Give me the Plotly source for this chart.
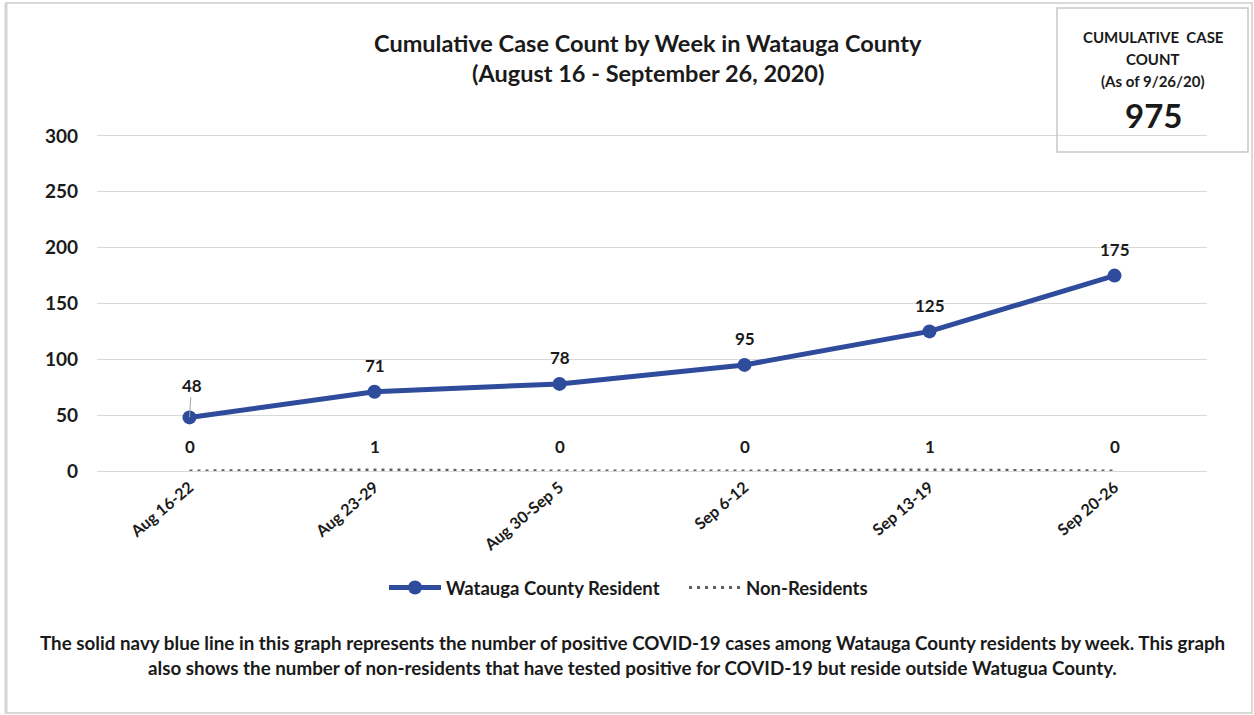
import plotly.graph_objects as go

weeks = ["Aug 16-22", "Aug 23-29", "Aug 30-Sep 5", "Sep 6-12", "Sep 13-19", "Sep 20-26"]
residents = [48, 71, 78, 95, 125, 175]
non_residents = [0, 1, 0, 0, 1, 0]
y_ticks = [0, 50, 100, 150, 200, 250, 300]
cumulative_total = 975

FONT = "Lato"
NAVY = "#2F4B9C"
TXT = "#1a1a1a"

def px_x(p):
    return (p - 97) / 1110

def px_y(p):
    return (471 - p) / 335

fig = go.Figure()
fig.add_trace(go.Scatter(
    x=weeks, y=residents, mode="lines+markers", name="Watauga County Resident",
    line=dict(color=NAVY, width=5), marker=dict(color=NAVY, size=14),
))
fig.add_trace(go.Scatter(
    x=weeks, y=non_residents, mode="lines", name="Non-Residents",
    line=dict(color="#606060", width=3, dash="3px,5px"),
))

lab_font = dict(family=FONT, size=17, color=TXT, weight="bold")
annotations = []
for i, (w, v) in enumerate(zip(weeks, residents)):
    if i == 0:
        annotations.append(dict(x=w, y=v, text=str(v), showarrow=True, arrowhead=0,
                                arrowcolor="#a0a0a0", arrowwidth=1, ax=2, ay=-32,
                                font=lab_font))
    else:
        annotations.append(dict(x=w, y=v, text=str(v), showarrow=False, yshift=26,
                                font=lab_font))
for w, v in zip(weeks, non_residents):
    annotations.append(dict(x=w, y=0, text=str(v), showarrow=False, yshift=25,
                            font=lab_font))

title_font = dict(family=FONT, size=23.5, color=TXT, weight="bold")
annotations.append(dict(xref="paper", yref="paper", x=px_x(648), xanchor="center",
                        y=px_y(43), yanchor="middle",
                        text="Cumulative Case Count by Week in Watauga County",
                        showarrow=False, font=title_font))
annotations.append(dict(xref="paper", yref="paper", x=px_x(648), xanchor="center",
                        y=px_y(73), yanchor="middle",
                        text="(August 16 - September 26, 2020)",
                        showarrow=False, font=title_font))
# box text
box_font = dict(family=FONT, size=15, color=TXT, weight="bold")
for txt, yy in [("CUMULATIVE  CASE", 37), ("COUNT", 59), ("(As of 9/26/20)", 81)]:
    annotations.append(dict(xref="paper", yref="paper", x=px_x(1153), xanchor="center",
                            y=px_y(yy), yanchor="middle", text=txt, showarrow=False,
                            font=box_font))
annotations.append(dict(xref="paper", yref="paper", x=px_x(1153), xanchor="center",
                        y=px_y(115), yanchor="middle",
                        text=str(cumulative_total), showarrow=False,
                        font=dict(family=FONT, size=33, color=TXT, weight="bold")))
cap_font = dict(family=FONT, size=18.8, color=TXT, weight="bold")
annotations.append(dict(xref="paper", yref="paper", x=px_x(632), xanchor="center",
                        y=px_y(642), yanchor="middle",
                        text="The solid navy blue line in this graph represents the number of positive COVID-19 cases among Watauga County residents by week. This graph",
                        showarrow=False, font=cap_font))
annotations.append(dict(xref="paper", yref="paper", x=px_x(632), xanchor="center",
                        y=px_y(667), yanchor="middle",
                        text="also shows the number of non-residents that have tested positive for COVID-19 but reside outside Watugua County.",
                        showarrow=False, font=cap_font))

shapes = [
    dict(type="rect", xref="paper", yref="paper", x0=px_x(1057), x1=px_x(1248),
         y0=px_y(152), y1=px_y(8), line=dict(color="#c8c8c8", width=1.5)),
    dict(type="rect", xref="paper", yref="paper", x0=px_x(6), x1=px_x(1252),
         y0=px_y(713), y1=px_y(3), line=dict(color="#d9d9d9", width=2)),
    dict(type="line", xref="paper", yref="paper", x0=px_x(6), x1=px_x(6),
         y0=px_y(713), y1=px_y(3), line=dict(color="#d4d4d4", width=3)),
]

fig.update_layout(
    width=1254, height=715,
    margin=dict(l=97, r=47, t=136, b=244),
    paper_bgcolor="white", plot_bgcolor="white",
    showlegend=True,
    legend=dict(orientation="h", x=px_x(384), xanchor="left", y=px_y(588), yanchor="middle",
                itemwidth=52, entrywidth=233, entrywidthmode="pixels",
                font=dict(family=FONT, size=18.5, color=TXT, weight="bold")),
    xaxis=dict(type="category", range=[-0.5, 5.5], showgrid=False, showline=True,
               mirror=True, linecolor="#d9d9d9", linewidth=1,
               ticks="", tickangle=-40,
               tickfont=dict(family=FONT, size=16, color=TXT, weight="bold")),
    yaxis=dict(range=[0, 300], tickvals=y_ticks, showgrid=True, gridcolor="#d9d9d9",
               gridwidth=1, zeroline=False, showline=False, ticks="", ticklabelstandoff=18,
               tickfont=dict(family=FONT, size=19, color=TXT, weight="bold")),
    annotations=annotations, shapes=shapes,
)

fig.write_html("out.html", config={"displayModeBar": False},
               post_script="document.body.style.margin='0';")
